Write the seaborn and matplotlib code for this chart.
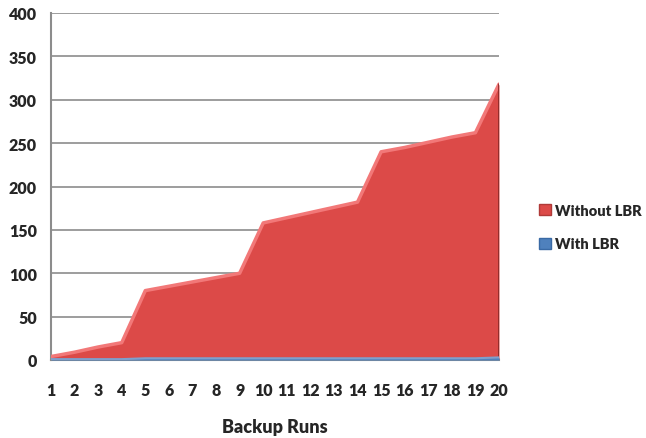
import numpy as np
import pandas as pd
import matplotlib
matplotlib.use("Agg")
import matplotlib.pyplot as plt
import seaborn as sns
from matplotlib.patches import Patch

sns.set_style("white")
plt.rcParams['font.family'] = ['Lato', 'DejaVu Sans']

# data
runs = list(range(1, 21))
without_lbr = [4, 9, 15, 20, 80, 85, 90, 95, 100, 158, 164, 170, 176, 182,
               240, 245, 251, 257, 262, 318]
with_lbr = [1, 1, 1, 1, 2, 2, 2, 2, 2, 2, 2, 2, 2, 2, 2, 2, 2, 2, 2, 3]
y_ticks = [0, 50, 100, 150, 200, 250, 300, 350, 400]

df = pd.DataFrame({'run': runs, 'Without LBR': without_lbr, 'With LBR': with_lbr})

red = '#DC4A48'
red_light = '#F27878'
blue = '#4F81BD'
W = 'heavy'

fig = plt.figure(figsize=(6.46, 4.39), dpi=100)
ax = fig.add_axes([51 / 646, 78 / 439, 448 / 646, 347 / 439])

# gridlines behind
for t in y_ticks[1:]:
    ax.axhline(t, color='#8c8c8c', lw=1.2, zorder=0)

ax.fill_between(df['run'], 0, df['Without LBR'], color=red, lw=0, zorder=2)
sns.lineplot(data=df, x='run', y='Without LBR', color=red_light, lw=2.5, ax=ax, zorder=3)
ax.plot([20, 20], [0, without_lbr[-1]], color='#8a2a28', lw=2, zorder=3)
ax.fill_between(df['run'], 0, df['With LBR'], color=blue, lw=0, zorder=4)
sns.lineplot(data=df, x='run', y='With LBR', color='#7f9fcc', lw=1.5, ax=ax, zorder=4)

ax.set_xlim(1, 20)
ax.set_ylim(0, 400)
ax.set_xticks(runs)
ax.set_yticks(y_ticks)
ax.tick_params(axis='x', length=0, pad=16, labelsize=11.5)
ax.tick_params(axis='y', length=0, pad=10, labelsize=11.5)
for lab in ax.get_xticklabels() + ax.get_yticklabels():
    lab.set_fontweight(W)

for side in ['top', 'right']:
    ax.spines[side].set_visible(False)
ax.spines['left'].set_color('#8c8c8c')
ax.spines['bottom'].set_color('#8c8c8c')
ax.spines['left'].set_linewidth(1.5)
ax.spines['bottom'].set_linewidth(1.5)

ax.set_xlabel('Backup Runs', fontsize=13, fontweight=W, labelpad=14)
ax.set_ylabel('')

handles = [Patch(facecolor=red, edgecolor='#b03a38', label='Without LBR'),
           Patch(facecolor=blue, edgecolor='#3a6aa5', label='With LBR')]
fig.legend(handles=handles, loc='center left', bbox_to_anchor=(526 / 646, 1 - 228 / 439),
           frameon=False, handlelength=0.8, handleheight=0.8, handletextpad=0.3,
           labelspacing=1.4, prop={'weight': W, 'size': 10.5})

fig.savefig('out.png', dpi=100)
